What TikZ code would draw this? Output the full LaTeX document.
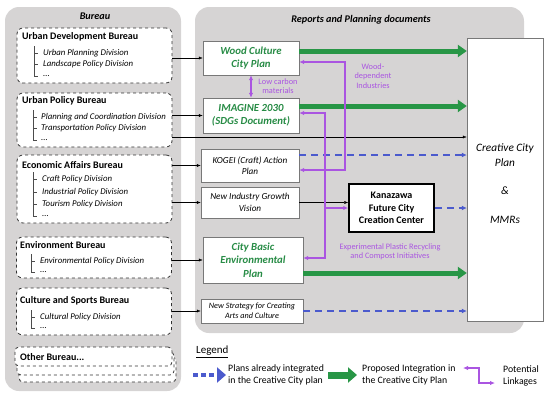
\documentclass[tikz,border=0pt]{standalone}
\usepackage{fontspec}
\setmainfont{Carlito}
\usetikzlibrary{arrows.meta, positioning}

\definecolor{panelgray}{RGB}{214,212,212}
\definecolor{plangreen}{RGB}{40,150,70}
\definecolor{textgreen}{RGB}{40,140,70}
\definecolor{dashblue}{RGB}{75,90,205}
\definecolor{linkpurple}{RGB}{170,85,225}
\definecolor{boxgray}{RGB}{120,120,120}

\begin{document}
\begin{tikzpicture}[x=1pt, y=-1pt,
    panel/.style={fill=panelgray, rounded corners=14pt},
    paneltitle/.style={font=\fontsize{10.2}{12}\selectfont\bfseries\itshape},
    bureau/.style={draw=black!80, dashed, thick, rounded corners=6pt, fill=white, minimum width=155pt, inner sep=0pt},
    btitle/.style={anchor=west, inner sep=0pt, font=\fontsize{10}{12}\selectfont\bfseries},
    div/.style={anchor=west, inner sep=0pt, font=\fontsize{8.8}{10}\selectfont\itshape},
    tree/.style={draw=black!70, thin},
    report/.style={draw=boxgray, fill=white, align=center, inner sep=0pt},
    greenplan/.style={text=textgreen, font=\fontsize{10.8}{13.5}\selectfont\bfseries\itshape},
    plainplan/.style={font=\fontsize{9.2}{11.5}\selectfont\itshape},
    feed/.style={-{Latex[length=4pt,width=3pt]}, black, thin},
    proposed/.style={-{Triangle[length=9pt,width=12pt]}, plangreen, line width=5pt},
    integrated/.style={-{Latex[length=5pt,width=5pt]}, dashblue, line width=1.6pt, dash pattern=on 7pt off 5pt},
    link/.style={linkpurple, line width=1.5pt, >={Latex[length=5pt,width=4.5pt]}},
    linklabel/.style={text=linkpurple, align=center, font=\fontsize{8.3}{9.5}\selectfont},
    legendtext/.style={anchor=west, align=left, inner sep=0pt, font=\fontsize{9.8}{11.5}\selectfont}
]
\useasboundingbox (0,0) rectangle (550,400);

% Panels
\fill[panel] (5,7) rectangle (181,391);
\fill[panel] (195,7) rectangle (524,333);
\node[paneltitle] (bt) at (95,16) {Bureau};
\node[paneltitle] (rt) at (361,20) {Reports and Planning documents};

% Bureau boxes
\node[bureau, minimum height=55pt] (ubd) at (94.5,55.5) {};
\node[bureau, minimum height=54pt] (upb) at (94.5,120) {};
\node[bureau, minimum height=68pt] (eab) at (94.5,189) {};
\node[bureau, minimum height=41pt] (envb) at (94,257.5) {};
\node[bureau, minimum height=47pt] (csb) at (94,311.5) {};
\draw[bureau, rounded corners=4pt] (19,357) rectangle (176,382);
\draw[bureau, rounded corners=4pt] (17,352) rectangle (174,375);
\node[bureau, minimum width=157pt, minimum height=19pt, rounded corners=4pt] (oth) at (93.5,356.5) {};

% Bureau titles and divisions
\node[btitle] (ubdt) at (22,37) {Urban Development Bureau};
\node[div] (ud1) at (43,53) {Urban Planning Division};
\node[div] (ud2) at (43,64) {Landscape Policy Division};
\node[div] (ud3) at (43,76) {...};
\draw[tree] (34,46) -- (34,76) -- (38,76) (34,53) -- (38,53) (34,64) -- (38,64);

\node[btitle] (upbt) at (22,101) {Urban Policy Bureau};
\node[div] (up1) at (41,117) {Planning and Coordination Division};
\node[div] (up2) at (41,128) {Transportation Policy Division};
\node[div] (up3) at (41,140) {...};
\draw[tree] (33,110) -- (33,140) -- (37,140) (33,117) -- (37,117) (33,128) -- (37,128);

\node[btitle] (eabt) at (22,165) {Economic Affairs Bureau};
\node[div] (ea1) at (42,179) {Craft Policy Division};
\node[div] (ea2) at (42,192) {Industrial Policy Division};
\node[div] (ea3) at (42,204) {Tourism Policy Division};
\node[div] (ea4) at (42,216) {...};
\draw[tree] (33,172) -- (33,216) -- (37,216) (33,179) -- (37,179) (33,192) -- (37,192) (33,204) -- (37,204);

\node[btitle] (envt) at (20,245) {Environment Bureau};
\node[div] (en1) at (40,261) {Environmental Policy Division};
\node[div] (en2) at (40,272) {...};
\draw[tree] (31,254) -- (31,272) -- (35,272) (31,261) -- (35,261);

\node[btitle] (csbt) at (20,301) {Culture and Sports Bureau};
\node[div] (cs1) at (40,317) {Cultural Policy Division};
\node[div] (cs2) at (40,328) {...};
\draw[tree] (31,310) -- (31,328) -- (35,328) (31,317) -- (35,317);

\node[btitle] (otht) at (20,357) {Other Bureau...};

% Reports and planning documents
\node[report, greenplan, minimum width=96pt, minimum height=34pt] (wood) at (251,58) {Wood Culture\\City Plan};
\node[report, greenplan, minimum width=96pt, minimum height=35pt] (imagine) at (251,115.5) {IMAGINE 2030\\(SDGs Document)};
\node[report, plainplan, minimum width=98pt, minimum height=33pt] (kogei) at (250,165.5) {KOGEI (Craft) Action\\Plan};
\node[report, plainplan, minimum width=98pt, minimum height=31pt] (growth) at (250,202.5) {New Industry Growth\\Vision};
\node[report, greenplan, minimum width=100pt, minimum height=46pt] (envplan) at (253,260) {City Basic\\Environmental\\Plan};
\node[report, minimum width=102pt, minimum height=24pt, font=\fontsize{8.2}{10}\selectfont\itshape] (arts) at (252,311) {New Strategy for Creating\\Arts and Culture};

\node[draw=black, line width=1.5pt, fill=white, minimum width=85pt, minimum height=48pt, align=center, font=\fontsize{10}{12.5}\selectfont\bfseries] (kfc) at (391.5,208) {Kanazawa\\Future City\\Creation Center};

\node[draw=boxgray, fill=white, minimum width=76pt, minimum height=283pt] (ccp) at (505,179.5) {};
\node[align=center, font=\fontsize{11.3}{15}\selectfont\itshape] (ccpt) at (505,155) {Creative City\\Plan};
\node[font=\fontsize{11.3}{13}\selectfont\itshape] (amp) at (505,191) {\&};
\node[font=\fontsize{11.3}{13}\selectfont\itshape] (mmr) at (505,220) {MMRs};

% Bureau to documents
\draw[feed] (ubd.east |- wood.west) -- (wood.west);
\draw[feed] (upb.east |- imagine.west) -- (imagine.west);
\draw[feed] ([yshift=-17pt]upb.east) coordinate (upl) -- (upl -| ccp.west);
\draw[feed] (eab.east |- kogei.west) -- (kogei.west);
\draw[feed] (eab.east |- growth.west) -- (growth.west);
\draw[feed] (growth.east) -- (growth.east -| kfc.west);
\draw[feed] (envb.east |- envplan.west) -- (envplan.west);
\draw[feed] (csb.east |- arts.west) -- (arts.west);

% Proposed integration
\draw[proposed] ([yshift=7pt]wood.east) coordinate (w1) -- (w1 -| ccp.west);
\draw[proposed] ([yshift=9.5pt]imagine.east) coordinate (w2) -- (w2 -| ccp.west);
\draw[proposed] ([yshift=-13pt]envplan.east) coordinate (w3) -- (w3 -| ccp.west);

% Already integrated
\draw[integrated] ([yshift=10.5pt]kogei.east) coordinate (d1) -- (d1 -| ccp.west);
\draw[integrated] (kfc.east) -- (kfc.east -| ccp.west);
\draw[integrated] (arts.east) -- (arts.east -| ccp.west);

% Potential linkages
\draw[link, <->] (wood.south) -- (imagine.north);
\node[linklabel] (lcm) at (278,86) {Low carbon\\materials};
\draw[link, <->] ([yshift=-4pt]wood.east) -- ++(46,0) |- ([yshift=-4.5pt]kogei.east);
\node[linklabel] (wdi) at (373,76) {Wood-\\dependent\\Industries};
\draw[link, <->] ([yshift=2.5pt]imagine.east) -- ++(26,0) coordinate (expv) |- ([yshift=2pt]envplan.east);
\draw[link, ->] (expv |- kfc.west) -- (kfc.west);
\node[linklabel] (epr) at (390,252) {Experimental Plastic Recycling\\and Compost Initiatives};

% Legend
\node[anchor=west, inner sep=0pt, font=\fontsize{11}{13}\selectfont] (leg) at (196,352) {\underline{Legend}};
\coordinate (lb1) at (193,375);
\coordinate (lb2) at (226,375);
\draw[dashblue, line width=4pt, dash pattern=on 5pt off 3pt, -{Triangle[length=9pt,width=15pt]}] (lb1) -- (lb2);
\node[legendtext] (leg1) at (228,375) {Plans already integrated\\in the Creative City plan};
\coordinate (lg1) at (328,375);
\coordinate (lg2) at (357,375);
\draw[plangreen, line width=7pt, -{Triangle[length=9pt,width=15pt]}] (lg1) -- (lg2);
\node[legendtext] (leg2) at (362,375) {Proposed Integration in\\the Creative City Plan};
\coordinate (lp1) at (463,368);
\coordinate (lp2) at (495,383);
\draw[link, <->] (lp1) -- (479,368) |- (lp2);
\node[legendtext] (leg3) at (503,376) {Potential\\Linkages};
\end{tikzpicture}
\end{document}
